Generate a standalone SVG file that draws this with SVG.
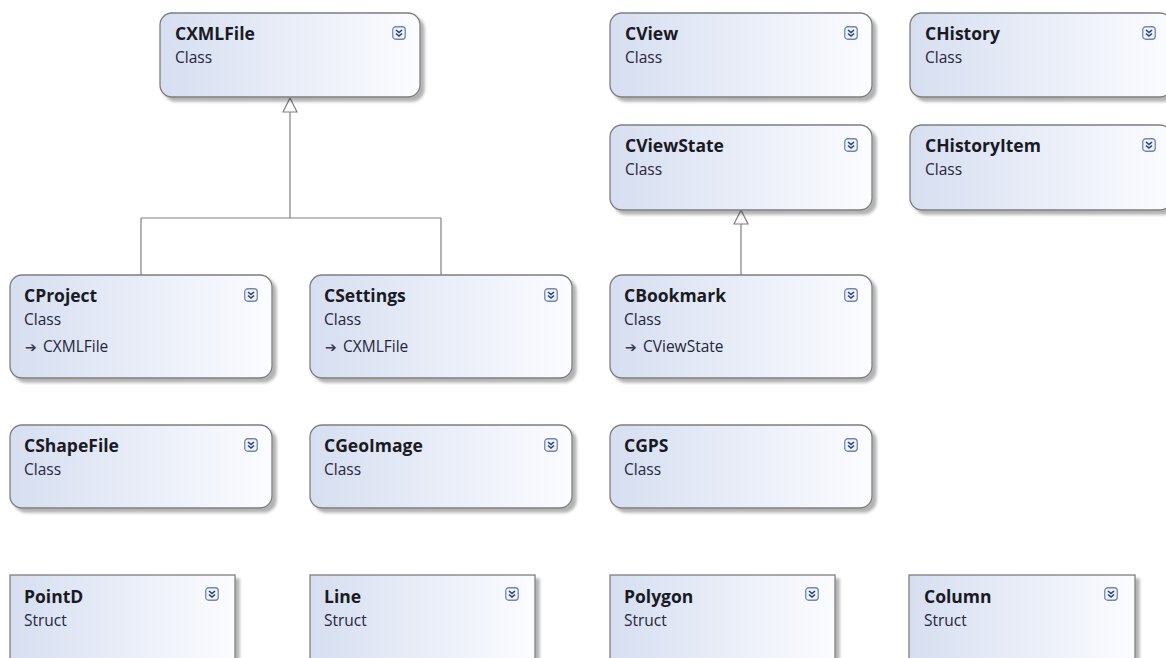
<svg xmlns="http://www.w3.org/2000/svg" xmlns:xlink="http://www.w3.org/1999/xlink" width="1166" height="658" viewBox="0 0 1166 658">
<style>
.box{fill:url(#g);stroke:#7d7d7d;stroke-width:1.3;filter:url(#sh)}
.t{font-family:"Open Sans","Noto Sans",sans-serif;font-weight:bold;font-size:17.5px;fill:#1a1a24}
.s{font-family:"Open Sans","Noto Sans",sans-serif;font-size:15.5px;fill:#26263a}
.a{font-family:"DejaVu Sans",sans-serif;font-size:14px;fill:#3a3a4a}
.c{fill:none;stroke:#808080;stroke-width:1.2}
.tri{fill:#fff;stroke:#808080;stroke-width:1.2}
</style>
<defs>
<linearGradient id="g" x1="0" y1="0" x2="1" y2="0">
<stop offset="0" stop-color="#d6def0"/>
<stop offset="1" stop-color="#fbfcff"/>
</linearGradient>
<filter id="sh" x="-5%" y="-5%" width="115%" height="125%">
<feDropShadow dx="4" dy="4" stdDeviation="1.5" flood-color="#000" flood-opacity="0.3"/>
</filter>
<symbol id="ic" viewBox="0 0 14 14" width="14" height="14">
<rect x="0.75" y="0.75" width="12.5" height="12.5" rx="3" fill="#eef2fa" stroke="#7388ad" stroke-width="1.3"/>
<path d="M4 4 L7 6.5 L10 4 M4 7.5 L7 10 L10 7.5" fill="none" stroke="#2e3f6e" stroke-width="1.6"/>
</symbol>
</defs>
<rect width="1166" height="658" fill="#fff"/>

<g id="connectors">
<path class="c" d="M290 112 V218 M141 218 H441 M141 218 V275 M441 218 V275"/>
<path class="tri" d="M290 98 L283 112 L297 112 Z"/>
<path class="c" d="M741 224 V275"/>
<path class="tri" d="M741 210 L734 224 L748 224 Z"/>
</g>

<g id="CXMLFile"><rect class="box" x="160" y="13" width="260" height="84" rx="12"/><text class="t" x="175" y="40">CXMLFile</text><text class="s" x="175" y="63">Class</text><use xlink:href="#ic" x="392" y="26"/></g>
<g id="CView"><rect class="box" x="610" y="13" width="262" height="84" rx="12"/><text class="t" x="625" y="40">CView</text><text class="s" x="625" y="63">Class</text><use xlink:href="#ic" x="844" y="26"/></g>
<g id="CHistory"><rect class="box" x="910" y="13" width="262" height="84" rx="12"/><text class="t" x="925" y="40">CHistory</text><text class="s" x="925" y="63">Class</text><use xlink:href="#ic" x="1142" y="26"/></g>
<g id="CViewState"><rect class="box" x="610" y="125" width="262" height="85" rx="12"/><text class="t" x="625" y="152">CViewState</text><text class="s" x="625" y="175">Class</text><use xlink:href="#ic" x="844" y="138"/></g>
<g id="CHistoryItem"><rect class="box" x="910" y="125" width="262" height="85" rx="12"/><text class="t" x="925" y="152">CHistoryItem</text><text class="s" x="925" y="175">Class</text><use xlink:href="#ic" x="1142" y="138"/></g>

<g id="CProject"><rect class="box" x="10" y="275" width="262" height="103" rx="12"/><text class="t" x="24" y="302">CProject</text><text class="s" x="24" y="325">Class</text><text class="s" y="352"><tspan class="a" x="25">➔</tspan><tspan x="43">CXMLFile</tspan></text><use xlink:href="#ic" x="244" y="288"/></g>
<g id="CSettings"><rect class="box" x="310" y="275" width="262" height="103" rx="12"/><text class="t" x="324" y="302">CSettings</text><text class="s" x="324" y="325">Class</text><text class="s" y="352"><tspan class="a" x="325">➔</tspan><tspan x="343">CXMLFile</tspan></text><use xlink:href="#ic" x="544" y="288"/></g>
<g id="CBookmark"><rect class="box" x="610" y="275" width="262" height="103" rx="12"/><text class="t" x="624" y="302">CBookmark</text><text class="s" x="624" y="325">Class</text><text class="s" y="352"><tspan class="a" x="625">➔</tspan><tspan x="643">CViewState</tspan></text><use xlink:href="#ic" x="844" y="288"/></g>

<g id="CShapeFile"><rect class="box" x="10" y="425" width="262" height="83" rx="12"/><text class="t" x="24" y="452">CShapeFile</text><text class="s" x="24" y="475">Class</text><use xlink:href="#ic" x="244" y="438"/></g>
<g id="CGeoImage"><rect class="box" x="310" y="425" width="262" height="83" rx="12"/><text class="t" x="324" y="452">CGeoImage</text><text class="s" x="324" y="475">Class</text><use xlink:href="#ic" x="544" y="438"/></g>
<g id="CGPS"><rect class="box" x="610" y="425" width="262" height="83" rx="12"/><text class="t" x="624" y="452">CGPS</text><text class="s" x="624" y="475">Class</text><use xlink:href="#ic" x="844" y="438"/></g>

<g id="PointD"><rect class="box" x="10" y="575" width="225" height="100"/><text class="t" x="24" y="603">PointD</text><text class="s" x="24" y="626">Struct</text><use xlink:href="#ic" x="205" y="587"/></g>
<g id="Line"><rect class="box" x="310" y="575" width="225" height="100"/><text class="t" x="324" y="603">Line</text><text class="s" x="324" y="626">Struct</text><use xlink:href="#ic" x="505" y="587"/></g>
<g id="Polygon"><rect class="box" x="610" y="575" width="225" height="100"/><text class="t" x="624" y="603">Polygon</text><text class="s" x="624" y="626">Struct</text><use xlink:href="#ic" x="805" y="587"/></g>
<g id="Column"><rect class="box" x="909" y="575" width="226" height="100"/><text class="t" x="924" y="603">Column</text><text class="s" x="924" y="626">Struct</text><use xlink:href="#ic" x="1104" y="587"/></g>
</svg>
